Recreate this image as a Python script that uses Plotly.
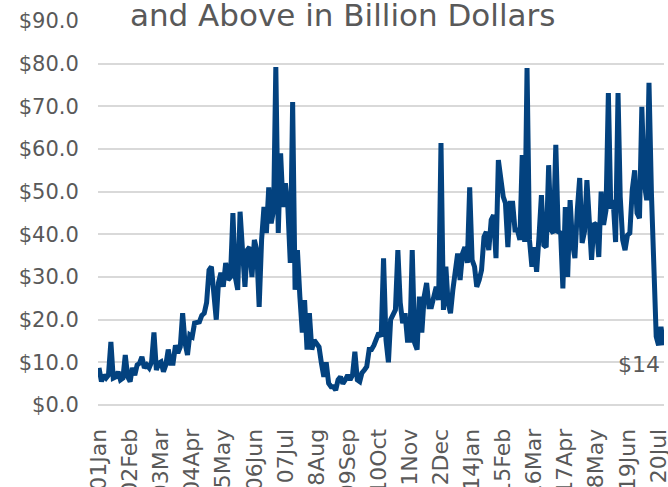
import pandas as pd
import plotly.graph_objects as go

start_month = "2001-01-01"
values = [
    8.7, 5.5, 7, 6.3, 7, 14.8, 6.3, 6.6, 7.8, 5.9, 6.3, 11.7, 6.6, 5.5, 8.7, 7, 9.4, 9.8, 11.3, 8.7,
    9.4, 8.7, 10.1, 17, 8.2, 9.8, 10.1, 7.8, 9.4, 13, 9.8, 9.8, 14, 12.2, 13.6, 21.5, 14.5, 11.7, 16.4, 16,
    19.2, 19.5, 19.5, 21, 21.5, 24, 31.6, 32.4, 27, 20, 28.6, 31, 27.7, 33.3, 29.3, 30, 45, 30, 27, 45.3,
    36.3, 27.7, 36.3, 37, 30, 38.7, 36.3, 23, 38.7, 46.4, 40.3, 51, 42.6, 45.7, 79.2, 40.3, 59, 46.4, 52, 46.4,
    33.3, 71, 27, 36.3, 25.4, 17, 24.6, 13, 21.5, 13, 15.2, 14.5, 13.6, 9.8, 6.6, 10, 5.1, 4.3, 4.3, 3.5,
    5.9, 6.6, 5, 5.9, 7, 5.9, 7, 12.5, 5.9, 5.5, 7.5, 8.2, 9, 13, 13, 14, 15.2, 16.9, 16, 34.4,
    15.2, 10, 20, 21.5, 22.3, 36.3, 24, 19.2, 21.5, 15.2, 15.2, 36.3, 14.5, 13, 25.4, 17, 25.4, 28.6, 23, 23,
    26.2, 27.7, 24.6, 61.4, 22.3, 32.4, 24, 21.5, 27, 31.6, 35.5, 29.3, 35.5, 37, 33.3, 51, 34, 32.4, 27.7, 29.3,
    31.6, 39.4, 40.6, 36.3, 43.4, 44.5, 34.4, 57.4, 52, 48.8, 47.3, 37, 47.3, 47.3, 41, 41, 38.7, 58.6, 38.2, 79,
    38.7, 32.4, 37, 31.2, 39.4, 49.2, 37.5, 37, 56.2, 41, 40.3, 61, 40.6, 40.3, 27.3, 46.4, 30, 48, 38, 34.4,
    45.7, 53.2, 38, 40.6, 52.7, 42.6, 34, 42.6, 42.2, 34.7, 50, 42.2, 45.7, 73.1, 46, 48, 38.2, 73.1, 48.8, 38.7,
    36.3, 39.8, 40.3, 50.4, 55, 45, 43.8, 69.9, 52, 48, 75.5, 49.6, 33, 16, 14, 18.3, 14,
]
dates = pd.date_range(start_month, periods=len(values), freq="MS")

tick_labels = ["01Jan", "02Feb", "03Mar", "04Apr", "05May", "06Jun", "07Jul", "08Aug", "09Sep",
               "10Oct", "11Nov", "12Dec", "14Jan", "15Feb", "16Mar", "17Apr", "18May", "19Jun", "20Jul"]
tick_dates = pd.date_range(start_month, periods=len(tick_labels), freq="13MS")

title_text = "and Above in Billion Dollars"
end_label = "$14"

line_color = "#03427F"
gray = "#595959"
font_family = "DejaVu Sans, sans-serif"

fig = go.Figure()
fig.add_trace(go.Scatter(
    x=dates, y=values, mode="lines",
    line=dict(color=line_color, width=5),
    hoverinfo="skip", showlegend=False,
))

fig.add_annotation(
    x=dates[-1], y=values[-1], text=end_label, showarrow=False,
    xanchor="right", yanchor="top", xshift=-1, yshift=-5,
    font=dict(family=font_family, size=22, color=gray),
)

fig.update_layout(
    width=668, height=487,
    margin=dict(l=98, r=4, t=21, b=82, autoexpand=False),
    paper_bgcolor="white", plot_bgcolor="white",
    title=dict(text=title_text, x=0.513, xanchor="center", xref="container",
               y=1 - 15.5 / 487, yanchor="middle", yref="container",
               pad=dict(t=0, b=0),
               font=dict(family=font_family, size=31, color=gray)),
    font=dict(family=font_family, color=gray),
)
fig.update_xaxes(
    range=[pd.Timestamp("2000-12-19"), pd.Timestamp("2020-09-08")],
    tickmode="array", tickvals=list(tick_dates), ticktext=tick_labels, tickangle=-90,
    showgrid=False, zeroline=False, showline=False, automargin=False,
    ticklabeloverflow="allow",
    ticks="outside", ticklen=14, tickcolor="rgba(0,0,0,0)",
    tickfont=dict(family=font_family, size=22, color=gray),
)
fig.update_yaxes(
    range=[0, 90], dtick=10, tickprefix="$", tickformat=".1f",
    showgrid=True, gridcolor="#D9D9D9", gridwidth=2, automargin=False,
    zeroline=True, zerolinecolor="#D9D9D9", zerolinewidth=2, showline=False,
    ticks="outside", ticklen=14, tickcolor="rgba(0,0,0,0)",
    tickfont=dict(family=font_family, size=21, color=gray),
)

fig.write_html("out.html")
